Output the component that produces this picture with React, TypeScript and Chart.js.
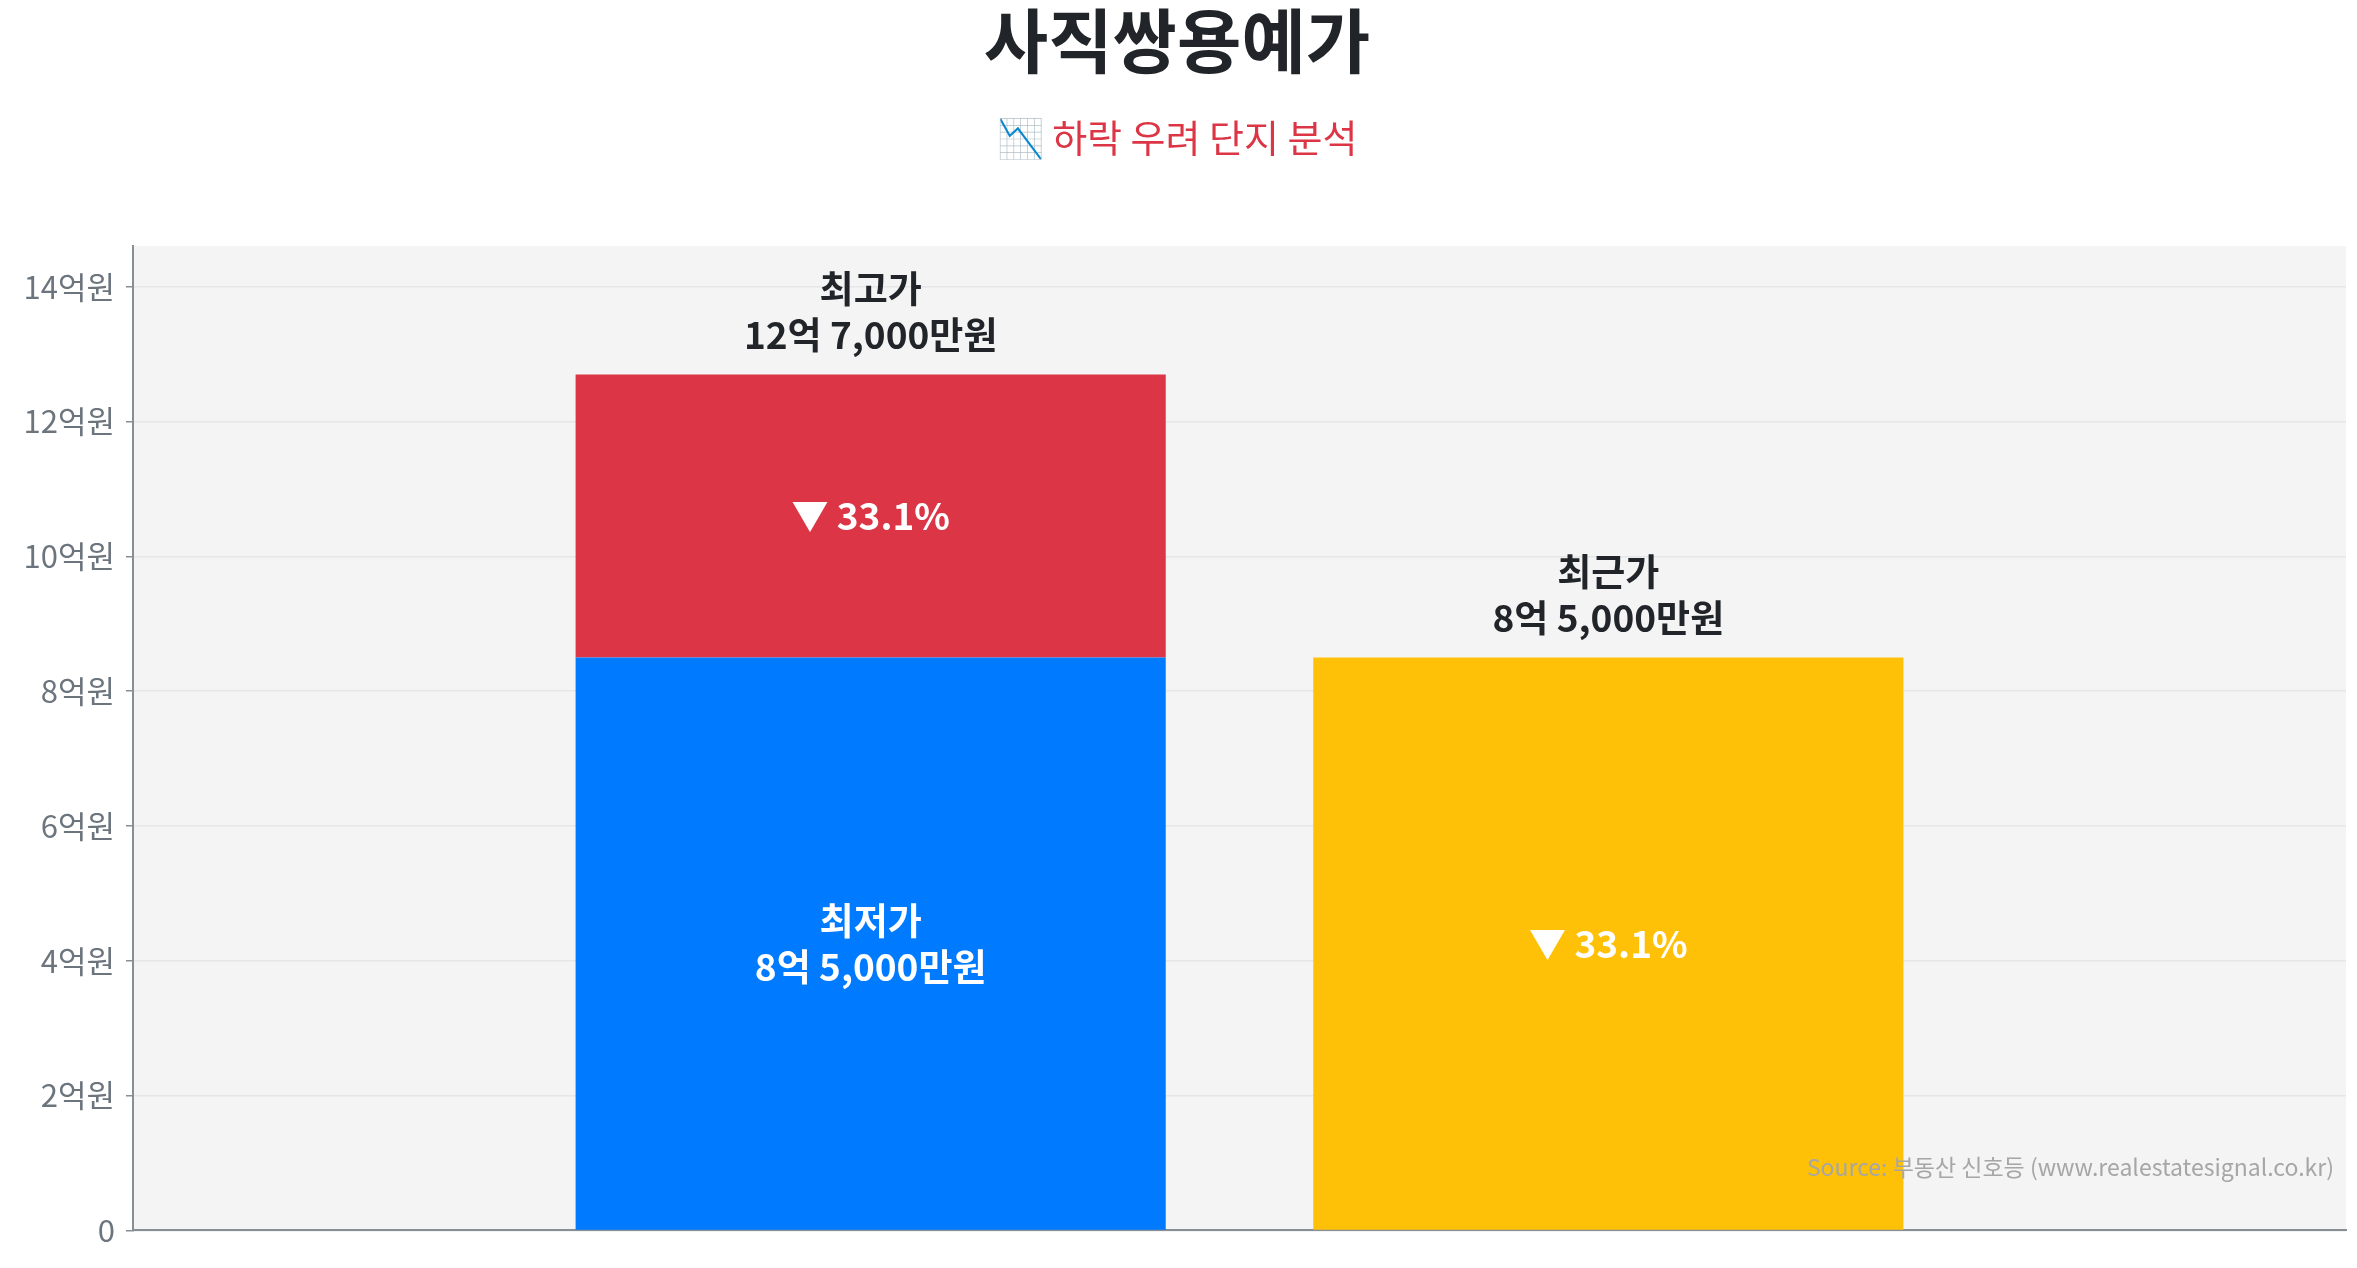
import React, { useEffect, useRef } from "react";
import { Chart, registerables } from "chart.js";

Chart.register(...registerables);

const TITLE = "사직쌍용예가";
const SUBTITLE = "📉 하락 우려 단지 분석";
const SOURCE = "Source: 부동산 신호등 (www.realestatesignal.co.kr)";

const categories = ["", "최고·최저가", "최근가", ""];
const lowValues = [null, 8.5, null, null];
const dropValues = [null, 4.2, null, null];
const recentValues = [null, null, 8.5, null];

const yTicks = [0, 2, 4, 6, 8, 10, 12, 14];
const highLabel = ["최고가", "12억 7,000만원"];
const lowLabel = ["최저가", "8억 5,000만원"];
const recentLabel = ["최근가", "8억 5,000만원"];

const FONT = "'Noto Sans CJK KR', 'Noto Sans', sans-serif";
const dropPct = (((dropValues[1] as number) / ((lowValues[1] as number) + (dropValues[1] as number))) * 100).toFixed(1);
const dropText = `▼ ${dropPct}%`;

const bgPlugin = {
  id: "plotBg",
  beforeDraw(chart: any) {
    const { ctx, chartArea } = chart;
    ctx.save();
    ctx.fillStyle = "#f4f4f4";
    ctx.fillRect(chartArea.left, chartArea.top, chartArea.right - chartArea.left, chartArea.bottom - chartArea.top);
    ctx.restore();
  },
};

const labelPlugin = {
  id: "barLabels",
  afterDatasetsDraw(chart: any) {
    const { ctx, chartArea } = chart;
    const lowBar = chart.getDatasetMeta(0).data[1];
    const dropBar = chart.getDatasetMeta(1).data[1];
    const recentBar = chart.getDatasetMeta(2).data[2];
    const lh = 46;
    ctx.save();
    ctx.textAlign = "center";
    ctx.textBaseline = "middle";
    ctx.font = `bold 37px ${FONT}`;

    const drawLines = (lines: string[], x: number, cy: number, color: string) => {
      ctx.fillStyle = color;
      const start = cy - ((lines.length - 1) * lh) / 2;
      lines.forEach((t, i) => ctx.fillText(t, x, start + i * lh));
    };

    drawLines(highLabel, dropBar.x, dropBar.y - 40 - lh / 2, "#212529");
    drawLines([dropText], dropBar.x, (dropBar.y + dropBar.base) / 2, "#ffffff");
    drawLines(lowLabel, lowBar.x, (lowBar.y + lowBar.base) / 2, "#ffffff");
    drawLines(recentLabel, recentBar.x, recentBar.y - 40 - lh / 2, "#212529");
    drawLines([dropText], recentBar.x, (recentBar.y + recentBar.base) / 2, "#ffffff");

    ctx.font = `23px ${FONT}`;
    ctx.fillStyle = "#a6a6a6";
    ctx.textAlign = "right";
    ctx.fillText(SOURCE, chartArea.right - 12, chartArea.bottom - 63);
    ctx.restore();
  },
};

export default function App() {
  const ref = useRef<HTMLCanvasElement | null>(null);
  useEffect(() => {
    if (!ref.current) return;
    const chart = new Chart(ref.current, {
      type: "bar",
      data: {
        labels: categories,
        datasets: [
          { label: "최저가", data: lowValues, backgroundColor: "#007bff", stack: "a", barPercentage: 1, categoryPercentage: 0.8 },
          { label: "하락폭", data: dropValues, backgroundColor: "#dc3545", stack: "a", barPercentage: 1, categoryPercentage: 0.8 },
          { label: "최근가", data: recentValues, backgroundColor: "#ffc107", stack: "a", barPercentage: 1, categoryPercentage: 0.8 },
        ],
      },
      options: {
        animation: false,
        responsive: true,
        maintainAspectRatio: false,
        layout: { padding: { top: 0, right: 3, bottom: 20, left: 0 } },
        plugins: {
          legend: { display: false },
          tooltip: { enabled: false },
          title: {
            display: true,
            text: TITLE,
            color: "#212529",
            font: { family: FONT, size: 70, weight: "bold", lineHeight: 0.95 },
            padding: { top: 0, bottom: 40 },
          },
          subtitle: {
            display: true,
            text: SUBTITLE,
            color: "#dc3545",
            font: { family: FONT, size: 38, weight: "normal", lineHeight: 1.2 },
            padding: { top: 0, bottom: 86 },
          },
        },
        scales: {
          x: {
            stacked: true,
            offset: false,
            grid: { display: false },
            border: { display: true, color: "#868e96", width: 2 },
            ticks: { display: false },
            afterFit(scale: any) {
              scale.height = 0;
            },
          },
          y: {
            stacked: true,
            min: 0,
            max: 12.7 * 1.15,
            afterBuildTicks(scale: any) {
              scale.ticks = yTicks.map((v) => ({ value: v }));
            },
            ticks: {
              color: "#6c757d",
              padding: 11,
              font: { family: FONT, size: 31 },
              callback: (v: any) => (Number(v) === 0 ? "0" : `${v}억원`),
            },
            grid: { color: "#e6e6e6", lineWidth: 1.5, tickLength: 7, tickColor: "#868e96" },
            border: { display: true, color: "#868e96", width: 2 },
            afterFit(scale: any) {
              scale.width = 125;
            },
          },
        },
      },
      plugins: [bgPlugin, labelPlugin],
    });
    return () => chart.destroy();
  }, []);

  return (
    <div style={{ width: "100%", height: "1252px", position: "relative" }}>
      <canvas ref={ref} />
    </div>
  );
}
